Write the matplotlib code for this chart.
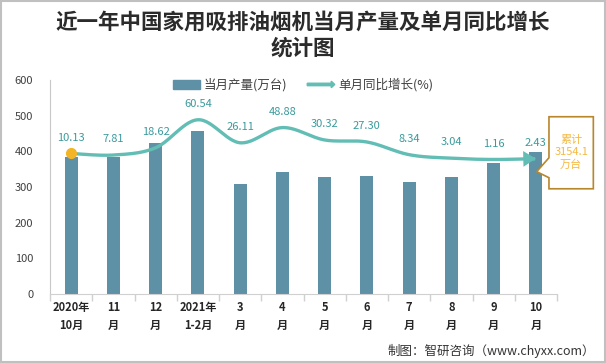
import numpy as np
import matplotlib
matplotlib.use("Agg")
import matplotlib.pyplot as plt
import matplotlib.patches as mpatches
from matplotlib.path import Path
from matplotlib.legend_handler import HandlerPatch

plt.rcParams['font.family'] = ['Noto Sans CJK SC', 'DejaVu Sans']

# data
months = ['2020年\n10月', '11\n月', '12\n月', '2021年\n1-2月', '3\n月', '4\n月',
          '5\n月', '6\n月', '7\n月', '8\n月', '9\n月', '10\n月']
output = [385, 383, 422, 456, 309, 341, 327, 330, 315, 327, 366, 397]
growth = [10.13, 7.81, 18.62, 60.54, 26.11, 48.88, 30.32, 27.30, 8.34, 3.04, 1.16, 2.43]
total_text = '累计\n3154.1\n万台'

BAR = '#5e90a6'
LINE = '#62bdb5'
LBL = '#3b9a9c'
ORANGE = '#f3b526'

fig = plt.figure(figsize=(6.06, 3.63), dpi=100)
ax = fig.add_axes([50/606, 1-294/363, 507/606, 214/363])
n = len(output)
x = np.arange(n)

ax.bar(x, output, width=0.31, color=BAR, zorder=2)
ax.set_xlim(-0.5, n-0.5)
ax.set_ylim(0, 600)
ax.set_yticks(range(0, 601, 100))
ax.tick_params(axis='y', length=0, pad=12, labelsize=8, labelcolor='#404040')
ax.set_xticks(x)
ax.set_xticklabels(months, fontsize=8, fontweight='bold', color='#262626', linespacing=1.5)
ax.tick_params(axis='x', which='major', length=0, pad=5)
ax.set_xticks(np.arange(-0.5, n), minor=True)
ax.tick_params(axis='x', which='minor', length=5, color='#d0d0d0', width=1)
for s in ['top', 'right']:
    ax.spines[s].set_visible(False)
ax.spines['left'].set_color('#c8c8c8')
ax.spines['bottom'].set_color('#d0d0d0')

# growth line on hidden secondary axis, smoothed like Excel
ax2 = ax.twinx()
ax2.set_ylim(-200, 120)
ax2.axis('off')
P = np.column_stack([x, growth]).astype(float)
t = np.linspace(0, 1, 30)[:, None]
curve = [P[0]]
for i in range(n-1):
    p0, p1, p2, p3 = P[max(i-1, 0)], P[i], P[i+1], P[min(i+2, n-1)]
    c1 = p1 + (p2-p0)/6
    c2 = p2 - (p3-p1)/6
    seg = (1-t)**3*p1 + 3*(1-t)**2*t*c1 + 3*(1-t)*t**2*c2 + t**3*p2
    curve.extend(seg[1:])
curve = np.array(curve)
arrow = mpatches.FancyArrowPatch(path=Path(curve), arrowstyle='-|>,head_length=0.8,head_width=0.5',
                                 mutation_scale=7, color=LINE, lw=2.4, shrinkA=0, shrinkB=0,
                                 capstyle='round', joinstyle='miter', zorder=3)
ax2.add_patch(arrow)
ax2.plot(x[0], growth[0], 'o', color=ORANGE, ms=7, zorder=4)
for i, g in enumerate(growth):
    ax2.annotate(f'{g:.2f}', (i, g), xytext=(0, 11.5), textcoords='offset points',
                 ha='center', va='center', fontsize=8, color=LBL)

# callout box for cumulative total
xb0, xb1 = n-1+0.31, n-1+1.36
box = [(xb0, 497), (xb1, 497), (xb1, 295), (xb0, 295), (xb0, 326), (n-1+0.02, 343), (xb0, 382)]
ax2.add_patch(mpatches.Polygon(box, closed=True, fc='white', ec='#b8862b', lw=1.2,
                               clip_on=False, zorder=5, transform=ax.transData))
ax2.text((xb0+xb1)/2, 397, total_text, ha='center', va='center', fontsize=8,
         color='#f5b942', linespacing=1.25, zorder=6, transform=ax.transData)

# legend
def make_arrow(legend, orig_handle, xdescent, ydescent, width, height, fontsize):
    return mpatches.FancyArrow(0, 0.5*height, width, 0, length_includes_head=True,
                               head_width=0.75*height, head_length=0.4*height, width=0.28*height)

bar_h = mpatches.Patch(color=BAR, label='当月产量(万台)')
arr_h = mpatches.FancyArrow(0, 0, 1, 0, color=LINE, label='单月同比增长(%)')
fig.legend(handles=[bar_h, arr_h], handler_map={mpatches.FancyArrow: HandlerPatch(patch_func=make_arrow)},
           loc='center', bbox_to_anchor=(0.5, 1-85/363), ncol=2, frameon=False, fontsize=9,
           handlelength=2.2, handleheight=0.7, columnspacing=1.6, handletextpad=0.3,
           labelcolor='#404040')

fig.text(0.5, 1-22/363, '近一年中国家用吸排油烟机当月产量及单月同比增长', ha='center', va='center',
         fontsize=15.5, fontweight='bold', color='#2b2b2b')
fig.text(0.5, 1-48/363, '统计图', ha='center', va='center', fontsize=15.5, fontweight='bold', color='#2b2b2b')
fig.text(595/606, 1-351/363, '制图：智研咨询（www.chyxx.com）', ha='right', va='center',
         fontsize=9, color='#333333')

fig.patches.append(mpatches.Rectangle((0.001, 0.002), 0.997, 0.996, transform=fig.transFigure,
                                      fill=False, ec='#c0c0c0', lw=1.5))

fig.savefig('out.png', dpi=100)
